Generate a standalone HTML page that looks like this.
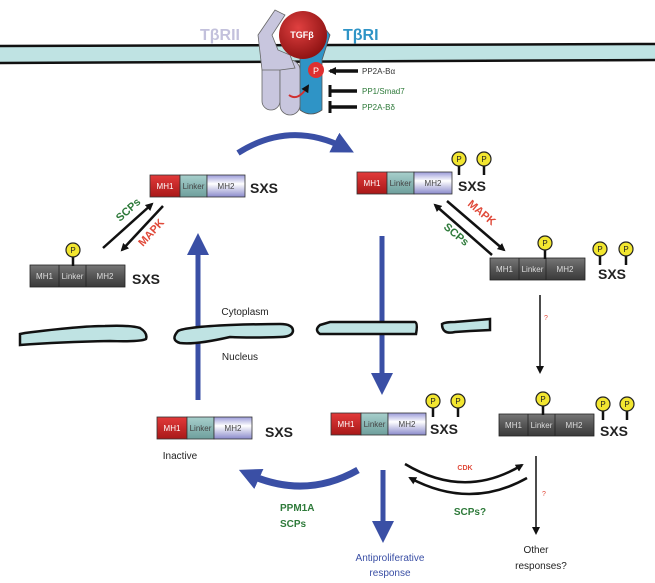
<!DOCTYPE html>
<html><head><meta charset="utf-8"><style>
html,body{margin:0;padding:0;background:#fff;}
svg{display:block;font-family:"Liberation Sans",sans-serif;}
</style></head><body>
<svg width="655" height="583" viewBox="0 0 655 583" xmlns="http://www.w3.org/2000/svg">
<defs>
<linearGradient id="red" x1="0" y1="0" x2="0" y2="1"><stop offset="0" stop-color="#e23a3a"/><stop offset="1" stop-color="#a81818"/></linearGradient>
<linearGradient id="teal" x1="0" y1="0" x2="0" y2="1"><stop offset="0" stop-color="#a7cfcc"/><stop offset="1" stop-color="#6e9f9c"/></linearGradient>
<linearGradient id="mh2" x1="0" y1="0" x2="0" y2="1"><stop offset="0" stop-color="#9a9ad8"/><stop offset=".4" stop-color="#fff"/><stop offset="1" stop-color="#8a8acb"/></linearGradient>
<linearGradient id="gray" x1="0" y1="0" x2="0" y2="1"><stop offset="0" stop-color="#777"/><stop offset=".5" stop-color="#555"/><stop offset="1" stop-color="#3a3a3a"/></linearGradient>
<radialGradient id="ball" cx=".4" cy=".35" r=".7"><stop offset="0" stop-color="#e04040"/><stop offset="1" stop-color="#8a1010"/></radialGradient>
<marker id="ah" markerWidth="8" markerHeight="8" refX="6" refY="4" orient="auto" markerUnits="userSpaceOnUse"><path d="M0,0 L8,4 L0,8 z" fill="#111"/></marker>
<marker id="bh" markerWidth="22" markerHeight="22" refX="12" refY="11" orient="auto" markerUnits="userSpaceOnUse"><path d="M0,0 L22,11 L0,22 z" fill="#3a4fa5"/></marker>
<g id="P"><line x1="0" y1="6" x2="0" y2="16" stroke="#111" stroke-width="2.5"/><circle r="7" fill="#f2e630" stroke="#222" stroke-width="1.2"/><text y="3" font-size="8" text-anchor="middle" fill="#222">P</text></g>
<g id="cbox">
<rect x="0" y="0" width="30" height="22" fill="url(#red)" stroke="#333" stroke-width=".8"/>
<rect x="30" y="0" width="27" height="22" fill="url(#teal)" stroke="#333" stroke-width=".8"/>
<rect x="57" y="0" width="38" height="22" fill="url(#mh2)" stroke="#333" stroke-width=".8"/>
<text x="15" y="14" font-size="8" fill="#fff" text-anchor="middle">MH1</text>
<text x="43.5" y="14" font-size="8" fill="#444" text-anchor="middle">Linker</text>
<text x="76" y="14" font-size="8" fill="#444" text-anchor="middle">MH2</text>
</g>
<g id="gbox">
<rect x="0" y="0" width="95" height="22" fill="url(#gray)" stroke="#222" stroke-width=".8"/>
<line x1="29" y1="0" x2="29" y2="22" stroke="#222" stroke-width=".8"/>
<line x1="56" y1="0" x2="56" y2="22" stroke="#222" stroke-width=".8"/>
<text x="14.5" y="14" font-size="8" fill="#ddd" text-anchor="middle">MH1</text>
<text x="42.5" y="14" font-size="8" fill="#ddd" text-anchor="middle">Linker</text>
<text x="75" y="14" font-size="8" fill="#ddd" text-anchor="middle">MH2</text>
</g>
</defs>

<!-- plasma membrane -->
<path d="M0,46 L655,44 L655,60 L0,63 Z" fill="#bfe3e3"/>
<path d="M0,46 L655,44" stroke="#111" stroke-width="2.5"/>
<path d="M0,63 L655,60" stroke="#111" stroke-width="2.5"/>

<!-- receptors -->
<path d="M300,25 L320,22 L330,35 L322,60 L322,110 Q311,118 300,110 Z" fill="#2f94c6" stroke="#555" stroke-width=".8"/>
<rect x="262" y="60" width="18" height="50" rx="9" fill="#c8c6de" stroke="#666" stroke-width=".8"/>
<rect x="280" y="60" width="20" height="55" rx="10" fill="#c8c6de" stroke="#666" stroke-width=".8"/>
<path d="M262,70 L258,35 L275,10 L285,15 L272,35 L278,50 L290,55 L295,68 L280,70 Z" fill="#c8c6de" stroke="#666" stroke-width=".8"/>
<circle cx="303" cy="35" r="24" fill="url(#ball)"/>
<text x="302" y="38" font-size="9" fill="#fff" text-anchor="middle" font-weight="bold">TGFβ</text>
<text x="200" y="40" font-size="16" fill="#c3c1dc" font-weight="bold">TβRII</text>
<text x="343" y="40" font-size="16" fill="#2f94c6" font-weight="bold">TβRI</text>
<circle cx="316" cy="70" r="8" fill="#e03030"/>
<text x="316" y="74" font-size="9" fill="#fff" text-anchor="middle">P</text>
<path d="M289,95 Q298,102 308,86" fill="none" stroke="#d03030" stroke-width="2" marker-end="url(#ah)"/>
<line x1="358" y1="71" x2="330" y2="71" stroke="#111" stroke-width="3.5" marker-end="url(#ah)"/>
<line x1="330" y1="91" x2="357" y2="91" stroke="#111" stroke-width="3.5"/><line x1="330" y1="85" x2="330" y2="97" stroke="#111" stroke-width="3"/>
<line x1="330" y1="107" x2="357" y2="107" stroke="#111" stroke-width="3.5"/><line x1="330" y1="101" x2="330" y2="113" stroke="#111" stroke-width="3"/>
<text x="362" y="74" font-size="8" fill="#333">PP2A-Bα</text>
<text x="362" y="94" font-size="8" fill="#2e7a3a">PP1/Smad7</text>
<text x="362" y="110" font-size="8" fill="#2e7a3a">PP2A-Bδ</text>

<!-- top curved blue arrow -->
<path d="M238,153 Q290,120 345,148" fill="none" stroke="#3a4fa5" stroke-width="6" marker-end="url(#bh)"/>

<!-- top-left smad -->
<use href="#cbox" x="150" y="175"/>
<text x="250" y="193" font-size="14" font-weight="bold" fill="#222">SXS</text>
<use href="#gbox" x="30" y="265"/>
<use href="#P" x="73" y="250"/>
<text x="132" y="284" font-size="14" font-weight="bold" fill="#222">SXS</text>
<line x1="103" y1="248" x2="152" y2="204" stroke="#111" stroke-width="2.5" marker-end="url(#ah)"/>
<line x1="163" y1="206" x2="122" y2="250" stroke="#111" stroke-width="2.5" marker-end="url(#ah)"/>
<text x="0" y="0" font-size="11" font-weight="bold" fill="#2e7a3a" transform="translate(120,222) rotate(-42)">SCPs</text>
<text x="0" y="0" font-size="11" font-weight="bold" fill="#e04a3a" transform="translate(143,247) rotate(-48)">MAPK</text>

<!-- top-right smad -->
<use href="#cbox" x="357" y="172"/>
<use href="#P" x="459" y="159"/><use href="#P" x="484" y="159"/>
<text x="458" y="191" font-size="14" font-weight="bold" fill="#222">SXS</text>
<use href="#gbox" x="490" y="258"/>
<use href="#P" x="545" y="243"/>
<use href="#P" x="600" y="249"/><use href="#P" x="626" y="249"/>
<text x="598" y="279" font-size="14" font-weight="bold" fill="#222">SXS</text>
<line x1="447" y1="201" x2="504" y2="250" stroke="#111" stroke-width="2.5" marker-end="url(#ah)"/>
<line x1="492" y1="255" x2="435" y2="205" stroke="#111" stroke-width="2.5" marker-end="url(#ah)"/>
<text x="0" y="0" font-size="11" font-weight="bold" fill="#e04a3a" transform="translate(467,205) rotate(40)">MAPK</text>
<text x="0" y="0" font-size="11" font-weight="bold" fill="#2e7a3a" transform="translate(443,228) rotate(40)">SCPs</text>

<!-- vertical blue arrows -->
<line x1="382" y1="236" x2="382" y2="385" stroke="#3a4fa5" stroke-width="5" marker-end="url(#bh)"/>
<line x1="198" y1="400" x2="198" y2="243" stroke="#3a4fa5" stroke-width="5" marker-end="url(#bh)"/>
<line x1="540" y1="295" x2="540" y2="372" stroke="#111" stroke-width="1.5" marker-end="url(#ah)"/>
<text x="544" y="320" font-size="7" fill="#e04a3a">?</text>

<!-- nuclear membrane -->
<g fill="#bfe3e3" stroke="#111" stroke-width="2.5">
<path d="M20,334 L25,333 Q80,326 105,326 Q130,325 140,328 Q148,333 146,339 Q140,342 110,341 Q60,342 20,345 Z"/>
<path d="M20,334 L20,345" stroke="none"/>
<path d="M178,331 Q185,327 230,325 Q260,324 280,324 Q293,324 293,331 Q292,337 280,337 Q250,338 230,337 Q195,345 180,343 Q170,340 178,331 Z"/>
<path d="M320,325 L330,322 L415,322 Q418,323 416,334 L320,334 Q314,330 320,325 Z"/>
<path d="M442,324 Q445,322 455,322 L490,319 L490,330 L470,331 L455,332 Q442,335 442,324 Z"/>
</g>
<text x="245" y="315" font-size="10" fill="#222" text-anchor="middle">Cytoplasm</text>
<text x="240" y="360" font-size="10" fill="#222" text-anchor="middle">Nucleus</text>

<!-- bottom row -->
<use href="#cbox" x="157" y="417"/>
<text x="265" y="437" font-size="14" font-weight="bold" fill="#222">SXS</text>
<text x="180" y="459" font-size="10" fill="#222" text-anchor="middle">Inactive</text>
<use href="#cbox" x="331" y="413"/>
<use href="#P" x="433" y="401"/><use href="#P" x="458" y="401"/>
<text x="430" y="434" font-size="14" font-weight="bold" fill="#222">SXS</text>
<use href="#gbox" x="499" y="414"/>
<use href="#P" x="543" y="399"/>
<use href="#P" x="603" y="404"/><use href="#P" x="627" y="404"/>
<text x="600" y="436" font-size="14" font-weight="bold" fill="#222">SXS</text>

<!-- bottom arrows -->
<path d="M358,470 Q305,500 248,474" fill="none" stroke="#3a4fa5" stroke-width="7" marker-end="url(#bh)"/>
<line x1="383" y1="470" x2="383" y2="533" stroke="#3a4fa5" stroke-width="5" marker-end="url(#bh)"/>
<text x="390" y="561" font-size="10" fill="#3a4fa5" text-anchor="middle">Antiproliferative</text>
<text x="390" y="576" font-size="10" fill="#3a4fa5" text-anchor="middle">response</text>
<text x="280" y="511" font-size="10" font-weight="bold" fill="#2e7a3a">PPM1A</text>
<text x="280" y="527" font-size="10" font-weight="bold" fill="#2e7a3a">SCPs</text>
<path d="M405,464 Q465,500 522,465" fill="none" stroke="#111" stroke-width="2.5" marker-end="url(#ah)"/>
<path d="M527,478 Q470,510 410,478" fill="none" stroke="#111" stroke-width="2.5" marker-end="url(#ah)"/>
<text x="465" y="470" font-size="7" font-weight="bold" fill="#e04a3a" text-anchor="middle">CDK</text>
<text x="470" y="515" font-size="10" font-weight="bold" fill="#2e7a3a" text-anchor="middle">SCPs?</text>
<line x1="536" y1="456" x2="536" y2="533" stroke="#111" stroke-width="1.5" marker-end="url(#ah)"/>
<text x="542" y="496" font-size="7" fill="#e04a3a">?</text>
<text x="536" y="553" font-size="10" fill="#222" text-anchor="middle">Other</text>
<text x="541" y="569" font-size="10" fill="#222" text-anchor="middle">responses?</text>
</svg>
</body></html>
